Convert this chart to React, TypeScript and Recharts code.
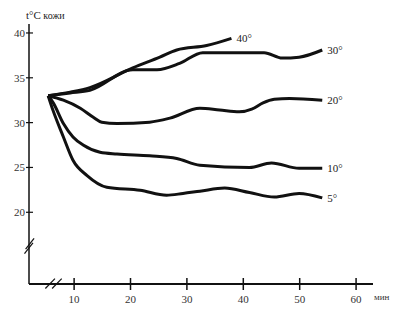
import { LineChart, Line, XAxis, YAxis, ReferenceLine } from 'recharts'

// skin temperature curves, one per ambient temperature
const seriesNames = ['40°', '30°', '20°', '10°', '5°']

const min40 = [5.4, 9.3, 12.8, 20.4, 25.2, 28.2, 33.5, 37.9]
const temp40 = [33.0, 33.4, 33.9, 36.1, 37.3, 38.1, 38.6, 39.4]

const min30 = [5.4, 9.3, 12.8, 20.4, 24.7, 28.7, 32.8, 39.3, 43.7, 46.9, 49.9, 54]
const temp30 = [33.0, 33.3, 33.6, 35.9, 35.9, 36.6, 37.8, 37.8, 37.8, 37.2, 37.3, 38.1]

const min20 = [5.4, 8.1, 11.1, 13.4, 14.9, 17.6, 23.4, 27, 32.3, 35.8, 39.3, 41.5, 43.5, 45.5, 48.2, 54]
const temp20 = [33.0, 32.5, 31.6, 30.6, 30.05, 29.9, 30.05, 30.5, 31.6, 31.4, 31.2, 31.5, 32.2, 32.6, 32.7, 32.5]

const min10 = [5.4, 6.3, 8.1, 9.8, 11.6, 14.6, 17.6, 23.4, 28.2, 32.3, 41.1, 45, 49.9, 54]
const temp10 = [33.0, 32.2, 29.9, 28.4, 27.5, 26.7, 26.5, 26.3, 26.0, 25.25, 25.0, 25.5, 24.9, 24.9]

const min5 = [5.4, 5.8, 8.1, 9.8, 12.3, 15.8, 21.7, 26.4, 29.3, 32.3, 36.7, 41.1, 45.5, 49.9, 54]
const temp5 = [33.0, 32.2, 28.4, 25.8, 24.1, 22.8, 22.45, 21.9, 22.1, 22.35, 22.7, 22.2, 21.7, 22.1, 21.6]

const xTicks = [10, 20, 30, 40, 50, 60]
const yTicks = [20, 25, 30, 35, 40]

const toRows = (xs: number[], ys: number[]) => xs.map((m, i) => ({ min: m, t: ys[i] }))

const series = [
  toRows(min40, temp40),
  toRows(min30, temp30),
  toRows(min20, temp20),
  toRows(min10, temp10),
  toRows(min5, temp5),
]

const font = '"Liberation Serif", "DejaVu Serif", serif'
const ink = '#111'

const XTick = (props: any) => {
  const { x, y, payload } = props
  return (
    <g>
      <line x1={x} x2={x} y1={y - 6} y2={y + 6} stroke={ink} strokeWidth={1.5} />
      <text x={x} y={y + 19} textAnchor="middle" fontSize={11} fontFamily={font} fill="#333">
        {payload.value}
      </text>
    </g>
  )
}

const YTick = (props: any) => {
  const { x, y, payload } = props
  return (
    <g>
      <line x1={x - 3} x2={x + 4} y1={y} y2={y} stroke={ink} strokeWidth={1.2} />
      <text x={x - 4} y={y + 4} textAnchor="end" fontSize={11} fontFamily={font} fill="#333">
        {payload.value}
      </text>
    </g>
  )
}

const endLabel = (name: string, count: number) => (props: any) => {
  const { x, y, index } = props
  if (index !== count - 1) return null
  return (
    <text x={x + 5} y={y + 4} fontSize={11} fontFamily={font} fill="#222">
      {name}
    </text>
  )
}

export default function App() {
  return (
    <div style={{ position: 'relative', width: 383, height: 300, background: '#fff' }}>
      <div
        style={{
          position: 'absolute', left: 18, top: 0, fontFamily: font, fontSize: 10, color: '#222',
          lineHeight: '14px',
        }}
      >
        <span style={{ fontSize: 11 }}>t°C</span> кожи
      </div>
      <div
        style={{
          position: 'absolute', left: 366, top: 284, fontFamily: font, fontSize: 9, color: '#333',
        }}
      >
        мин
      </div>
      <LineChart width={383} height={300} margin={{ top: 16, right: 18, left: 0, bottom: 7 }}>
        <XAxis
          type="number"
          dataKey="min"
          domain={[2, 63]}
          ticks={xTicks}
          allowDataOverflow
          height={17}
          tickSize={0}
          tickMargin={0}
          tickLine={false}
          tick={<XTick />}
          axisLine={{ stroke: ink, strokeWidth: 2 }}
        />
        <YAxis
          type="number"
          dataKey="t"
          domain={[12, 41]}
          ticks={yTicks}
          allowDataOverflow
          width={21}
          tickSize={0}
          tickMargin={0}
          tickLine={false}
          tick={<YTick />}
          axisLine={{ stroke: ink, strokeWidth: 1.5 }}
        />
        {/* axis breaks */}
        <ReferenceLine segment={[{ x: 1.2, y: 15.4 }, { x: 2.7, y: 16.6 }]} stroke={ink} strokeWidth={1.2} ifOverflow="visible" />
        <ReferenceLine segment={[{ x: 1.4, y: 15.9 }, { x: 2.9, y: 17.1 }]} stroke={ink} strokeWidth={1.2} ifOverflow="visible" />
        <ReferenceLine segment={[{ x: 4.9, y: 11.5 }, { x: 6.6, y: 12.6 }]} stroke={ink} strokeWidth={1.2} ifOverflow="visible" />
        <ReferenceLine segment={[{ x: 6.1, y: 11.5 }, { x: 7.8, y: 12.6 }]} stroke={ink} strokeWidth={1.2} ifOverflow="visible" />
        {series.map((rows, i) => (
          <Line
            key={seriesNames[i]}
            data={rows}
            dataKey="t"
            type="monotone"
            stroke={ink}
            strokeWidth={3}
            dot={false}
            isAnimationActive={false}
            label={endLabel(seriesNames[i], rows.length)}
          />
        ))}
      </LineChart>
    </div>
  )
}
